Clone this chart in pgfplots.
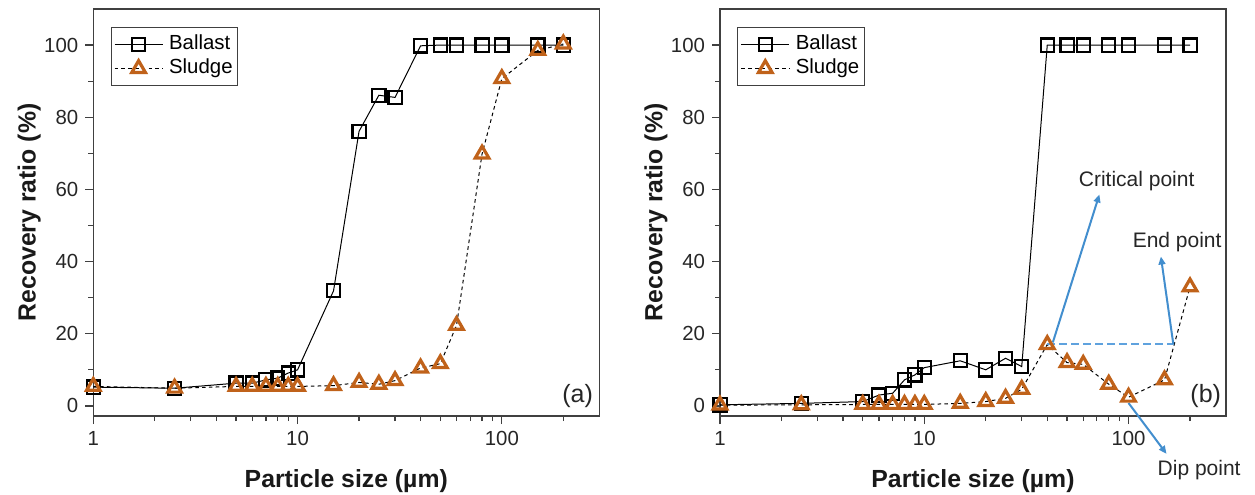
\documentclass[border=0pt]{standalone}
\usepackage{fontspec}
\setmainfont{Liberation Sans}
\usepackage{pgfplots}
\pgfplotsset{compat=1.18}
\usetikzlibrary{arrows.meta}

\definecolor{sludgeorange}{RGB}{192,98,26}
\definecolor{arrowblue}{RGB}{66,142,206}
\definecolor{dashblue}{RGB}{95,162,222}

\tikzset{
  ballastplot/.style={black, line width=0.5pt, mark=square, mark size=3.3pt,
    mark options={solid, fill=white, line width=1.1pt}},
  sludgeplot/.style={black, line width=0.5pt, dash pattern=on 1.8pt off 1.6pt,
    mark=triangle, mark size=3.9pt,
    mark options={solid, draw=sludgeorange, fill=white, line width=1.6pt}},
  note/.style={inner sep=0pt, font=\fontsize{10.5}{12}\selectfont, text=black!85},
  blue arrow/.style={arrowblue, line width=1pt, -{Triangle[length=4pt,width=3.4pt]}},
  axlabel/.style={font=\fontsize{12.4}{15}\selectfont\bfseries, text=black!90},
}

\begin{document}
\begin{tikzpicture}
\path[use as bounding box] (0,0) rectangle (627.5pt,247pt);

% (a)
\begin{axis}[at={(46.65pt,39pt)}, anchor=south west,
    scale only axis, width=253pt, height=203.5pt,
    xmode=log, xmin=1, xmax=300, ymin=-2.8, ymax=110,
    xtick={1,10,100}, xticklabels={1,10,100},
    minor xtick={2,3,4,5,6,7,8,9,20,30,40,50,60,70,80,90,200},
    ytick={0,20,40,60,80,100}, minor ytick={10,30,50,70,90},
    tick pos=left, tick align=outside,
    major tick length=4pt, minor tick length=2.5pt,
    tick style={black!75, line width=0.6pt},
    axis line style={black!75, line width=0.6pt},
    tick label style={font=\fontsize{10.2}{12}\selectfont, text=black!85},
    /pgf/number format/assume math mode=true,
    xlabel={Particle size (µm)}, ylabel={Recovery ratio (\%)},
    every axis x label/.style={axlabel, at={(axis description cs:0.5,-0.1745)}, anchor=base},
    every axis y label/.style={axlabel, at={(axis description cs:-0.114,0.5)}, rotate=90, anchor=base},
    legend cell align=left,
    legend style={at={(axis description cs:0.034,0.956)}, anchor=north west,
      draw=black!75, line width=0.6pt, inner xsep=1.5pt, inner ysep=2.5pt,
      column sep=2pt, font=\fontsize{10.2}{12}\selectfont,
      nodes={inner xsep=1pt, inner ysep=1pt, text height=7.5pt, text depth=2.5pt}},
    legend image code/.code={%
      \draw[mark repeat=2, mark phase=2, #1] plot coordinates {(0pt,0pt) (12pt,0pt) (24pt,0pt)};},
    clip=false]
\addplot[ballastplot] coordinates {
  (1,5.2) (2.5,4.9) (5,6.3) (6,6.3) (7,7.2) (8,7.7) (9,9.1) (10,10.0)
  (15,31.9) (20,76.1) (25,86.1) (30,85.5) (40,99.8) (50,100) (60,100)
  (80,100) (100,100) (150,100) (200,100)
};
\addlegendentry{Ballast}
\addplot[sludgeplot] coordinates {
  (1,5.4) (2.5,4.9) (5,5.4) (6,5.4) (7,5.4) (8,5.4) (9,5.4) (10,5.4)
  (15,5.6) (20,6.5) (25,6.0) (30,7.0) (40,10.5) (50,11.7) (60,22.3)
  (80,69.8) (100,90.7) (150,98.5) (200,100.3)
};
\addlegendentry{Sludge}
\node[anchor=base east, inner sep=0pt, font=\fontsize{12.5}{15}\selectfont, text=black!85]
  at (rel axis cs:0.988,0.034) {(a)};
\end{axis}

% (b)
\begin{axis}[at={(360pt,39pt)}, anchor=south west,
    scale only axis, width=253pt, height=203.5pt,
    xmode=log, xmin=1, xmax=300, ymin=-2.8, ymax=110,
    xtick={1,10,100}, xticklabels={1,10,100},
    minor xtick={2,3,4,5,6,7,8,9,20,30,40,50,60,70,80,90,200},
    ytick={0,20,40,60,80,100}, minor ytick={10,30,50,70,90},
    tick pos=left, tick align=outside,
    major tick length=4pt, minor tick length=2.5pt,
    tick style={black!75, line width=0.6pt},
    axis line style={black!75, line width=0.6pt},
    tick label style={font=\fontsize{10.2}{12}\selectfont, text=black!85},
    /pgf/number format/assume math mode=true,
    xlabel={Particle size (µm)}, ylabel={Recovery ratio (\%)},
    every axis x label/.style={axlabel, at={(axis description cs:0.5,-0.1745)}, anchor=base},
    every axis y label/.style={axlabel, at={(axis description cs:-0.114,0.5)}, rotate=90, anchor=base},
    legend cell align=left,
    legend style={at={(axis description cs:0.034,0.956)}, anchor=north west,
      draw=black!75, line width=0.6pt, inner xsep=1.5pt, inner ysep=2.5pt,
      column sep=2pt, font=\fontsize{10.2}{12}\selectfont,
      nodes={inner xsep=1pt, inner ysep=1pt, text height=7.5pt, text depth=2.5pt}},
    legend image code/.code={%
      \draw[mark repeat=2, mark phase=2, #1] plot coordinates {(0pt,0pt) (12pt,0pt) (24pt,0pt)};},
    clip=false]
\addplot[ballastplot] coordinates {
  (1,0.3) (2.5,0.7) (5,1.2) (6,3.0) (7,3.5) (8,7.2) (9,8.6) (10,10.6)
  (15,12.5) (20,10.0) (25,13.2) (30,10.9) (40,100) (50,100) (60,100)
  (80,100) (100,100) (150,100) (200,100)
};
\addlegendentry{Ballast}
\addplot[sludgeplot] coordinates {
  (1,0.2) (2.5,0.3) (5,0.4) (6,0.4) (7,0.4) (8,0.4) (9,0.4) (10,0.4)
  (15,0.7) (20,1.2) (25,2.1) (30,4.6) (40,17.0) (50,12.0) (60,11.5)
  (80,6.0) (100,2.4) (150,7.2) (200,33.0)
};
\addlegendentry{Sludge}
% annotations
\draw[dashblue, line width=1pt, dash pattern=on 4pt off 2pt]
  (axis cs:40,17.2) -- (axis cs:166,17.2);
\draw[blue arrow] (axis cs:42.6,17.6) -- (axis cs:72,58.6);
\draw[blue arrow] (axis cs:165.6,17.2) -- (axis cs:144,41.4);
\draw[blue arrow] (axis cs:100,0.8) -- (axis cs:153.5,-13.3);
\node[note, anchor=base west] at (axis cs:56.9,60.9) {Critical point};
\node[note, anchor=base west] at (axis cs:104.4,43.8) {End point};
\node[note, anchor=base west] at (axis cs:138.3,-19.4) {Dip point};
\node[anchor=base east, inner sep=0pt, font=\fontsize{12.5}{15}\selectfont, text=black!85]
  at (rel axis cs:0.991,0.034) {(b)};
\end{axis}
\end{tikzpicture}
\end{document}
